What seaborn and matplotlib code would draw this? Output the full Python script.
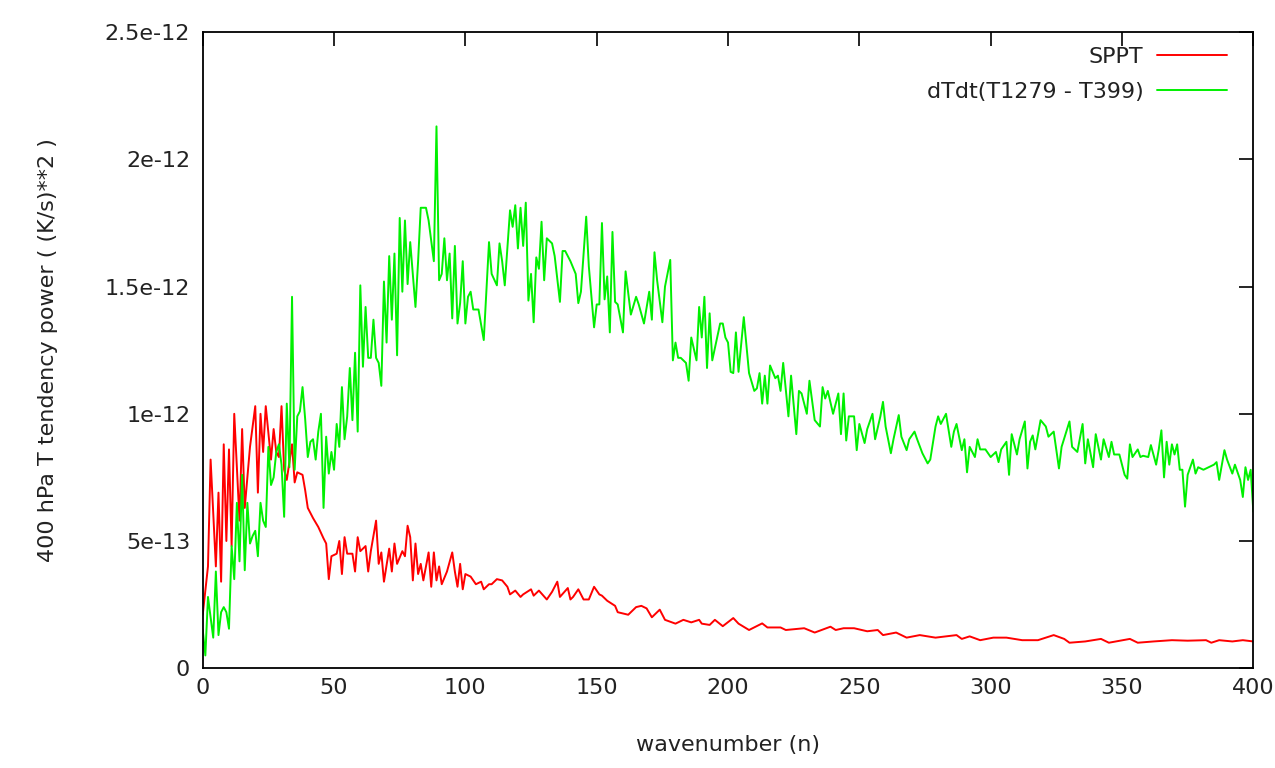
import matplotlib
matplotlib.use("Agg")
import matplotlib.pyplot as plt
import seaborn as sns
import pandas as pd

# values in units of 1e-12 (K/s)**2
UNIT = 1e-12

sppt_n = [0, 2, 3, 5, 6, 7, 8, 9, 10, 11, 12, 14, 15, 16, 18, 20, 21, 22, 23, 24,
          26, 27, 28, 29, 30, 31, 32, 34, 35, 36, 38, 39, 40, 42, 44, 46, 47, 48, 49, 51,
          52, 53, 54, 55, 57, 58, 59, 60, 62, 63, 64, 66, 67, 68, 69, 71, 72, 73, 74, 76,
          77, 78, 79, 80, 81, 82, 83, 84, 86, 87, 88, 89, 90, 91, 93, 95, 96, 97, 98, 99,
          100, 102, 104, 106, 107, 109, 110, 112, 114, 116, 117, 119, 121, 122, 125, 126, 128, 131, 133, 135,
          136, 139, 140, 141, 143, 145, 147, 149, 151, 152, 154, 157, 158, 160, 162, 165, 167, 169, 171, 174,
          176, 180, 183, 186, 189, 190, 193, 195, 198, 202, 204, 208, 213, 215, 220, 222, 229, 233, 239, 241,
          244, 248, 253, 257, 259, 264, 268, 273, 279, 287, 289, 292, 296, 301, 306, 312, 318, 324, 328, 330,
          336, 342, 345, 353, 356, 362, 369, 375, 382, 384, 387, 392, 396, 400]
sppt_val = [0.21, 0.40, 0.82, 0.40, 0.69, 0.34, 0.88, 0.50, 0.86, 0.48, 1.00, 0.58, 0.94, 0.63, 0.87, 1.03, 0.69, 1.00, 0.85, 1.03,
            0.82, 0.94, 0.85, 0.83, 1.03, 0.78, 0.74, 0.88, 0.73, 0.77, 0.76, 0.70, 0.63, 0.59, 0.555, 0.51, 0.49, 0.35, 0.44, 0.45,
            0.50, 0.37, 0.515, 0.45, 0.45, 0.38, 0.515, 0.46, 0.48, 0.38, 0.46, 0.58, 0.41, 0.455, 0.34, 0.47, 0.38, 0.49, 0.41, 0.46,
            0.44, 0.56, 0.515, 0.345, 0.49, 0.37, 0.41, 0.345, 0.455, 0.32, 0.455, 0.345, 0.40, 0.33, 0.38, 0.455, 0.38, 0.32, 0.41, 0.31,
            0.37, 0.36, 0.33, 0.34, 0.31, 0.33, 0.33, 0.35, 0.345, 0.32, 0.29, 0.305, 0.28, 0.29, 0.31, 0.285, 0.305, 0.27, 0.30, 0.34,
            0.28, 0.315, 0.27, 0.28, 0.31, 0.27, 0.27, 0.32, 0.29, 0.285, 0.265, 0.245, 0.22, 0.215, 0.21, 0.24, 0.245, 0.235, 0.20, 0.23,
            0.19, 0.175, 0.19, 0.18, 0.19, 0.175, 0.17, 0.19, 0.165, 0.197, 0.175, 0.15, 0.176, 0.16, 0.16, 0.15, 0.157, 0.14, 0.163, 0.15,
            0.157, 0.157, 0.145, 0.15, 0.13, 0.14, 0.12, 0.13, 0.12, 0.13, 0.115, 0.125, 0.11, 0.12, 0.12, 0.11, 0.11, 0.13, 0.115, 0.10,
            0.105, 0.115, 0.10, 0.115, 0.10, 0.105, 0.11, 0.108, 0.11, 0.10, 0.11, 0.105, 0.11, 0.105]

dtdt_n = [0, 1, 2, 3, 4, 5, 6, 7, 8, 9, 10, 11, 12, 13, 14, 15, 16, 17, 18, 19,
          20, 21, 22, 23, 24, 25, 26, 27, 28, 29, 30, 31, 32, 33, 34, 35, 36, 37, 38, 39,
          40, 41, 42, 43, 44, 45, 46, 47, 48, 49, 50, 51, 52, 53, 54, 55, 56, 57, 58, 59,
          60, 61, 62, 63, 64, 65, 66, 67, 68, 69, 70, 71, 72, 73, 74, 75, 76, 77, 78, 79,
          80, 81, 82, 83, 84, 85, 86, 87, 88, 89, 90, 91, 92, 93, 94, 95, 96, 97, 98, 99,
          100, 101, 102, 103, 105, 107, 109, 110, 112, 113, 114, 115, 117, 118, 119, 120, 121, 122, 123, 124,
          125, 126, 127, 128, 129, 130, 131, 133, 134, 136, 137, 138, 140, 142, 143, 144, 146, 147, 149, 150,
          151, 152, 153, 154, 155, 156, 157, 158, 160, 161, 163, 165, 166, 168, 170, 171, 172, 173, 175, 176,
          178, 179, 180, 181, 182, 184, 185, 186, 188, 189, 190, 191, 192, 193, 194, 197, 198, 199, 200, 201,
          202, 203, 204, 206, 208, 210, 211, 212, 213, 214, 215, 216, 218, 219, 220, 221, 223, 224, 226, 227,
          228, 230, 231, 233, 235, 236, 237, 238, 240, 242, 243, 244, 245, 246, 248, 249, 250, 252, 253, 255,
          256, 258, 259, 260, 262, 263, 265, 266, 268, 269, 271, 272, 274, 276, 277, 279, 280, 281, 283, 285,
          286, 287, 289, 290, 291, 292, 294, 295, 296, 298, 300, 302, 303, 304, 306, 307, 308, 310, 311, 313,
          314, 315, 316, 317, 319, 321, 322, 324, 326, 327, 330, 331, 333, 335, 336, 337, 339, 340, 342, 343,
          345, 346, 347, 349, 351, 352, 353, 354, 356, 357, 358, 360, 361, 363, 364, 365, 366, 367, 368, 369,
          370, 371, 372, 373, 374, 375, 377, 378, 379, 381, 383, 385, 386, 387, 389, 390, 392, 393, 395, 396,
          397, 398, 399, 400]
dtdt_val = [0.15, 0.05, 0.28, 0.20, 0.12, 0.38, 0.13, 0.22, 0.24, 0.22, 0.155, 0.48, 0.35, 0.65, 0.42, 0.76, 0.385, 0.65, 0.49, 0.52,
            0.54, 0.44, 0.65, 0.58, 0.555, 0.87, 0.72, 0.75, 0.85, 0.88, 0.80, 0.595, 1.04, 0.79, 1.46, 0.78, 0.99, 1.01, 1.105, 0.98,
            0.83, 0.89, 0.90, 0.82, 0.93, 1.00, 0.63, 0.91, 0.765, 0.85, 0.78, 0.96, 0.87, 1.105, 0.90, 0.99, 1.18, 0.975, 1.24, 0.93,
            1.505, 1.185, 1.42, 1.22, 1.22, 1.37, 1.22, 1.20, 1.11, 1.52, 1.28, 1.62, 1.37, 1.63, 1.23, 1.77, 1.48, 1.76, 1.51, 1.675,
            1.55, 1.42, 1.60, 1.81, 1.81, 1.81, 1.76, 1.68, 1.60, 2.13, 1.525, 1.55, 1.69, 1.525, 1.63, 1.375, 1.66, 1.355, 1.435, 1.60,
            1.355, 1.46, 1.48, 1.41, 1.41, 1.29, 1.675, 1.55, 1.505, 1.67, 1.60, 1.505, 1.80, 1.735, 1.82, 1.65, 1.81, 1.66, 1.83, 1.445,
            1.55, 1.36, 1.615, 1.57, 1.755, 1.525, 1.69, 1.67, 1.62, 1.44, 1.64, 1.64, 1.60, 1.55, 1.435, 1.48, 1.775, 1.58, 1.34, 1.43,
            1.43, 1.75, 1.45, 1.54, 1.32, 1.715, 1.44, 1.43, 1.32, 1.56, 1.39, 1.46, 1.43, 1.355, 1.48, 1.37, 1.635, 1.525, 1.36, 1.50,
            1.605, 1.21, 1.28, 1.22, 1.22, 1.20, 1.13, 1.30, 1.21, 1.42, 1.30, 1.46, 1.18, 1.395, 1.21, 1.355, 1.355, 1.30, 1.28, 1.165,
            1.16, 1.32, 1.165, 1.38, 1.16, 1.09, 1.10, 1.16, 1.04, 1.15, 1.04, 1.19, 1.14, 1.15, 1.09, 1.20, 0.99, 1.15, 0.92, 1.09,
            1.08, 1.00, 1.13, 0.975, 0.95, 1.105, 1.06, 1.09, 1.00, 1.08, 0.92, 1.08, 0.895, 0.99, 0.99, 0.857, 0.96, 0.885, 0.94, 1.00,
            0.90, 0.99, 1.047, 0.95, 0.845, 0.90, 0.995, 0.91, 0.857, 0.90, 0.93, 0.90, 0.845, 0.805, 0.82, 0.95, 0.99, 0.96, 1.00, 0.87,
            0.93, 0.96, 0.857, 0.90, 0.77, 0.87, 0.83, 0.90, 0.86, 0.86, 0.83, 0.85, 0.81, 0.86, 0.89, 0.76, 0.92, 0.84, 0.90, 0.97,
            0.785, 0.89, 0.915, 0.86, 0.975, 0.95, 0.91, 0.93, 0.785, 0.87, 0.97, 0.87, 0.85, 0.96, 0.805, 0.90, 0.79, 0.92, 0.82, 0.90,
            0.83, 0.89, 0.84, 0.84, 0.76, 0.745, 0.88, 0.83, 0.86, 0.83, 0.835, 0.83, 0.877, 0.80, 0.86, 0.935, 0.75, 0.89, 0.80, 0.88,
            0.84, 0.88, 0.78, 0.78, 0.635, 0.76, 0.82, 0.765, 0.79, 0.78, 0.79, 0.80, 0.81, 0.74, 0.857, 0.82, 0.765, 0.80, 0.74, 0.673,
            0.79, 0.74, 0.78, 0.615]

x_ticks = [0, 50, 100, 150, 200, 250, 300, 350, 400]
y_ticks = [0.0, 0.5e-12, 1.0e-12, 1.5e-12, 2.0e-12, 2.5e-12]
y_tick_labels = ["0", "5e-13", "1e-12", "1.5e-12", "2e-12", "2.5e-12"]

sns.set_theme(style="white")
plt.rcParams["font.family"] = ["DejaVu Sans"]

FS = 16

df_sppt = pd.DataFrame({"n": sppt_n, "power": [v * UNIT for v in sppt_val]})
df_dtdt = pd.DataFrame({"n": dtdt_n, "power": [v * UNIT for v in dtdt_val]})

fig = plt.figure(figsize=(12.75, 7.68), dpi=100)
ax = fig.add_axes([0.159, 0.130, 0.824, 0.828])

sns.lineplot(data=df_sppt, x="n", y="power", color="#ff0000", lw=1.4,
             label="SPPT", estimator=None, ax=ax)
sns.lineplot(data=df_dtdt, x="n", y="power", color="#00f000", lw=1.4,
             label="dTdt(T1279 - T399)", estimator=None, ax=ax)

ax.set_xlim(0, 400)
ax.set_ylim(0, 2.5e-12)
ax.set_xticks(x_ticks)
ax.set_xticklabels([str(t) for t in x_ticks])
ax.set_yticks(y_ticks)
ax.set_yticklabels(y_tick_labels)
ax.tick_params(direction="in", top=True, right=True, length=10, width=1.2,
               labelsize=FS, colors="black", labelcolor="#222222")
ax.tick_params(axis="y", pad=9)
ax.tick_params(axis="x", pad=7)
for s in ax.spines.values():
    s.set_color("black")
    s.set_linewidth(1.3)

ax.set_xlabel("wavenumber (n)", fontsize=FS, labelpad=27, color="#222222")
ax.set_ylabel("400 hPa T tendency power ( (K/s)**2 )", fontsize=FS, labelpad=34,
              color="#222222")

leg = ax.legend(loc="upper right", bbox_to_anchor=(0.9892, 1.0), frameon=False,
                markerfirst=False, handlelength=3.15, labelspacing=0.69,
                fontsize=FS, borderaxespad=0.26, handletextpad=0.63)
for t in leg.get_texts():
    t.set_color("#222222")

fig.savefig("out.png", dpi=100)
